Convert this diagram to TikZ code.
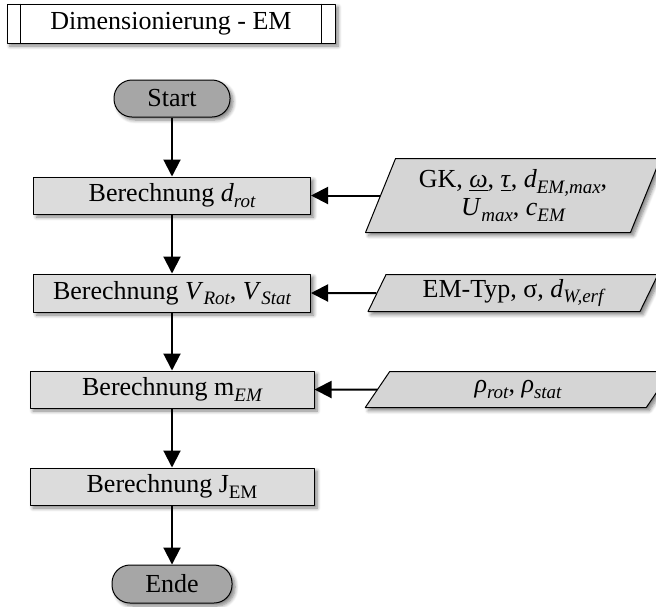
\documentclass[tikz,border=0pt]{standalone}
\usepackage{fontspec}
\setmainfont{Liberation Serif}
\usetikzlibrary{arrows.meta, shapes.geometric, shadows.blur, positioning}

\definecolor{boxgray}{HTML}{DCDCDC}
\definecolor{inputgray}{HTML}{D5D5D5}
\definecolor{termgray}{HTML}{A6A6A6}

\newcommand{\idx}[1]{\raisebox{-0.45ex}{\fontsize{9.5}{10}\selectfont\itshape #1}}
\newcommand{\upidx}[1]{\raisebox{-0.45ex}{\fontsize{9.5}{10}\selectfont #1}}

\begin{document}
\begin{tikzpicture}[x=0.5pt, y=-0.5pt, line join=round,
  font=\fontsize{13}{14}\selectfont,
  shade/.style={blur shadow={shadow xshift=1.5pt, shadow yshift=-1.5pt,
      shadow blur steps=6, shadow opacity=50}},
  calcbox/.style={draw, line width=0.5pt, fill=boxgray, inner sep=0pt,
      minimum height=18.5pt, shade},
  terminal/.style={draw, line width=0.5pt, fill=termgray, inner sep=0pt,
      minimum height=18.5pt, rounded corners=9pt, shade},
  inputbox/.style={trapezium, trapezium left angle=65, trapezium right angle=115,
      trapezium stretches=true, draw, line width=0.5pt, fill=inputgray,
      inner sep=0pt, align=center, shade},
  flow/.style={line width=1pt, -{Triangle[length=8.5pt, width=8.5pt]}}]
\def\mainx{172}
\def\inx{513}

\useasboundingbox (0,0) rectangle (656,606);

% Title
\node[draw, line width=0.5pt, fill=white, minimum width=164pt, minimum height=19.5pt,
      inner sep=0pt, shade] (title) at (171,23.5) {Dimensionierung - EM};
\draw[line width=0.5pt] ([xshift=7pt]title.north west) -- ([xshift=7pt]title.south west);
\draw[line width=0.5pt] ([xshift=-7pt]title.north east) -- ([xshift=-7pt]title.south east);

% Main chain
\node[terminal, minimum width=58pt] (start) at (\mainx,98.5) {Start};
\node[calcbox, minimum width=138.5pt] (drot) at (\mainx,195.5) {Berechnung \textit{d}\idx{rot}};
\node[calcbox, minimum width=138.5pt, minimum height=19pt] (vol) at (\mainx,293)
  {Berechnung \textit{V}\idx{Rot}, \textit{V}\idx{Stat}};
\node[calcbox, minimum width=142pt] (mass) at (\mainx,389.5) {Berechnung m\idx{EM}};
\node[calcbox, minimum width=142pt] (inertia) at (\mainx,486.5)
  {Berechnung J\upidx{EM}};
\node[terminal, minimum width=60pt, minimum height=19pt] (ende) at (\mainx,584) {Ende};

% Inputs
\node[inputbox, minimum width=147.5pt, minimum height=37pt] (in1) at (\inx,195.5)
  {GK, \underline{\textit{ω}}, \underline{\textit{τ}}, \textit{d}\idx{EM,max},\\
   \textit{U}\idx{max}, \textit{c}\idx{EM}};
\node[inputbox, minimum width=145pt, minimum height=18.5pt] (in2) at (\inx,293)
  {EM-Typ, σ, \textit{d}\idx{W,erf}};
\node[inputbox, minimum width=153pt, minimum height=18pt] (in3) at (518,389.5)
  {\textit{ρ}\idx{rot}, \textit{ρ}\idx{stat}};

% Connectors
\draw[flow] (start) -- (drot);
\draw[flow] (drot) -- (vol);
\draw[flow] (vol) -- (mass);
\draw[flow] (mass) -- (inertia);
\draw[flow] (inertia) -- (ende);
\draw[flow] (in1) -- (drot);
\draw[flow] (in2) -- (vol);
\draw[flow] (in3) -- (mass);
\end{tikzpicture}
\end{document}
